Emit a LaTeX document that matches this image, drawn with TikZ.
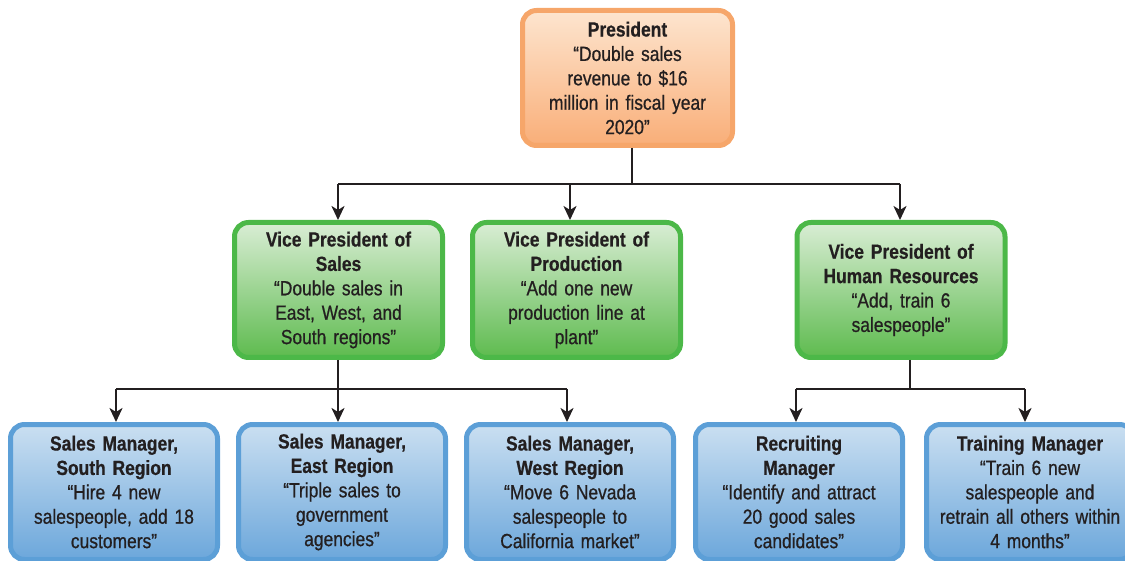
\documentclass[tikz,border=0pt]{standalone}
\usepackage{fontspec}
\setmainfont{Liberation Sans}[FakeStretch=0.85, UprightFeatures={FakeBold=0.7}, BoldFeatures={FakeBold=0.6}]
\usetikzlibrary{arrows.meta,calc}
\definecolor{orB}{HTML}{F6A66A}
\definecolor{orT}{HTML}{FDE5CF}
\definecolor{orD}{HTML}{F9AE78}
\definecolor{grB}{HTML}{4CB848}
\definecolor{grT}{HTML}{D9EDD4}
\definecolor{grD}{HTML}{5EBB4F}
\definecolor{blB}{HTML}{5C9FD7}
\definecolor{blT}{HTML}{CADFF1}
\definecolor{blD}{HTML}{6CA7DB}
\definecolor{txt}{HTML}{231F20}
\tikzset{
  box/.style={rounded corners=14pt, line width=5pt, align=center, inner sep=0pt,
    text=txt, font=\fontsize{20.5}{24.4}\selectfont, text width=204pt},
  pres/.style={box, draw=orB, top color=orT, bottom color=orD, minimum width=210pt, minimum height=135pt},
  vp/.style={box, draw=grB, top color=grT, bottom color=grD, minimum width=208pt, minimum height=135pt},
  mgr/.style={box, draw=blB, top color=blT, bottom color=blD, minimum width=207pt, minimum height=135pt},
  conn/.style={line width=2.4pt, draw=txt},
  arr/.style={conn, -{Stealth[length=14pt,width=13pt,inset=4pt]}}
}
\begin{document}
\begin{tikzpicture}[x=1pt,y=-1pt]
\useasboundingbox (0,0) rectangle (1125,561);
\node[pres] (pr) at (627.5,78) {\textbf{President}\\“Double sales\\revenue to \$16\\million in fiscal year\\2020”};
\node[vp] (vs) at (338.5,290) {\textbf{Vice President of}\\\textbf{Sales}\\“Double sales in\\East, West, and\\South regions”};
\node[vp] (vpp) at (576.5,290) {\textbf{Vice President of}\\\textbf{Production}\\“Add one new\\production line at\\plant”\\[24.4pt]};
\node[vp] (vh) at (901,290) {\textbf{Vice President of}\\\textbf{Human Resources}\\“Add, train 6\\salespeople”};
\node[mgr] (ms) at (114,492) {\textbf{Sales Manager,}\\\textbf{South Region}\\“Hire 4 new\\salespeople, add 18\\customers”};
\node[mgr] (me) at (342,492) {\textbf{Sales Manager,}\\\textbf{East Region}\\“Triple sales to\\government\\agencies”};
\node[mgr] (mw) at (570,492) {\textbf{Sales Manager,}\\\textbf{West Region}\\“Move 6 Nevada\\salespeople to\\California market”};
\node[mgr] (mr) at (799,492) {\textbf{Recruiting}\\\textbf{Manager}\\“Identify and attract\\20 good sales\\candidates”};
\node[mgr] (mt) at (1030,492) {\textbf{Training Manager}\\“Train 6 new\\salespeople and\\retrain all others within\\4 months”};
% president bus
\coordinate (b0) at (632,184);
\coordinate (b1) at (338,184);
\coordinate (b2) at (570,184);
\coordinate (b3) at (900,184);
\draw[conn] (b0 |- pr.south) -- (b0);
\draw[conn] (b1) -- (b3);
\draw[arr] (b1) -- (b1 |- vs.north);
\draw[arr] (b2) -- (b2 |- vpp.north);
\draw[arr] (b3) -- (b3 |- vh.north);
% sales bus
\coordinate (s0) at (338,389);
\coordinate (s1) at (116,389);
\coordinate (s2) at (338,389);
\coordinate (s3) at (567,389);
\draw[conn] (s0 |- vs.south) -- (s0);
\draw[conn] (s1) -- (s3);
\draw[arr] (s1) -- (s1 |- ms.north);
\draw[arr] (s2) -- (s2 |- me.north);
\draw[arr] (s3) -- (s3 |- mw.north);
% HR bus
\coordinate (h0) at (910,389);
\coordinate (h1) at (796,389);
\coordinate (h2) at (1025,389);
\draw[conn] (h0 |- vh.south) -- (h0);
\draw[conn] (h1) -- (h2);
\draw[arr] (h1) -- (h1 |- mr.north);
\draw[arr] (h2) -- (h2 |- mt.north);
\end{tikzpicture}
\end{document}
